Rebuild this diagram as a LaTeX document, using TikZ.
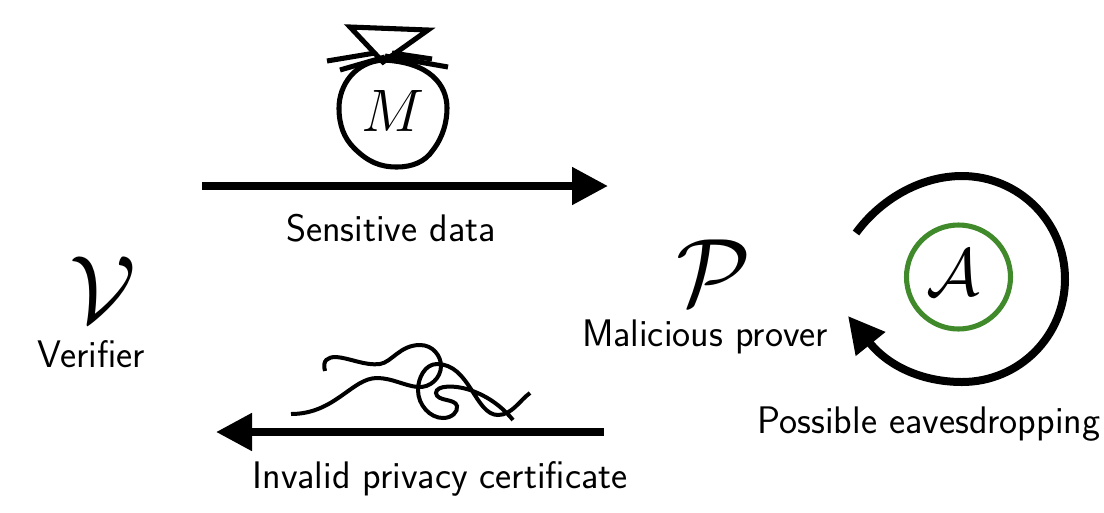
\RequirePackage{fix-cm}
\documentclass[tikz,border=0pt]{standalone}
\usetikzlibrary{arrows.meta}
\tikzset{
  caption/.style={font=\fontsize{28.8}{32}\selectfont\sffamily, inner sep=0pt},
  party/.style={font=\fontsize{72}{80}\selectfont, inner sep=0pt},
  letter/.style={font=\fontsize{45}{50}\selectfont, inner sep=0pt},
  flow/.style={line width=6pt, -{Triangle[length=27pt,width=27pt]}},
  sketch/.style={line width=3.8pt, line cap=butt, line join=miter},
  thread/.style={line width=3pt, line cap=butt},
}
\begin{document}
\begin{tikzpicture}[x=0.75pt,y=0.75pt,yscale=-1,xscale=1]
\useasboundingbox (0,0) rectangle (1104,512);

\node [party] (verifier) at (103,290) {$\mathcal{V}$};
\node [caption] (verifierlabel) at (91,354) {Verifier};
\node [party] (prover) at (714,273) {$\mathcal{P}$};
\node [caption] (proverlabel) at (705,337) {Malicious prover};

% money bag
\draw [sketch] (383,60) .. controls (355,62) and (339,85) .. (339,108) .. controls (339,125) and (344,138) .. (354,148) .. controls (368,162) and (380,167) .. (397,167) .. controls (412,167) and (425,162) .. (433,150) .. controls (443,137) and (447,122) .. (447,108) .. controls (447,85) and (430,62) .. (383,60);
\draw [sketch] (383,62) -- (350,27) -- (428,30) -- cycle;
\draw [sketch] (327,61) -- (375,53);
\draw [sketch] (340,70) -- (385,57);
\draw [sketch] (392,53) -- (432,59);
\draw [sketch] (385,56) -- (448,67);
\node [letter] (secret) at (393,111) {$M$};

\coordinate (sendstart) at (202,186);
\coordinate (sendend) at (608,186);
\draw [flow] (sendstart) -- (sendend);
\node [caption] (sendlabel) at (391,228) {Sensitive data};

% crumpled certificate
\draw [thread] (325,371) .. controls (322,360) and (328,357) .. (336,357) .. controls (350,358) and (365,366) .. (380,364) .. controls (392,362) and (400,345) .. (420,345) .. controls (433,345) and (441,356) .. (441,366) .. controls (441,378) and (430,388) .. (418,387) .. controls (405,386) and (392,378) .. (377,378) .. controls (352,378) and (335,414) .. (291,414);
\draw [thread] (530,393) .. controls (520,400) and (512,415) .. (498,415) .. controls (475,415) and (470,364) .. (437,364) .. controls (425,364) and (418,378) .. (418,390) .. controls (418,405) and (430,418) .. (443,418) .. controls (452,418) and (458,412) .. (457,406) .. controls (455,398) and (437,402) .. (436,393) .. controls (436,385) and (455,385) .. (470,390) .. controls (490,397) and (503,408) .. (513,420);

\coordinate (replystart) at (604,432);
\coordinate (replyend) at (216,432);
\draw [flow] (replystart) -- (replyend);
\node [caption] (replylabel) at (440,479) {Invalid privacy certificate};

% eavesdropper
\node [circle, draw={rgb,255:red,64;green,138;blue,43}, line width=3.8pt, minimum size=78pt, inner sep=0pt] (adversary) at (958.5,277) {};
\node [letter, font=\fontsize{50}{56}\selectfont] (adversaryname) at (953,273) {$\mathcal{A}$};
\coordinate (loopstart) at (856,233);
\coordinate (loopend) at (848,316);
\draw [line width=6pt, -{Triangle[length=27pt,width=27pt]}] (loopstart) .. controls (880,200) and (920,176) .. (962,176) .. controls (1019,176) and (1065,222) .. (1065,279) .. controls (1065,336) and (1019,382) .. (962,382) .. controls (925,382) and (890,368) .. (loopend);
\node [caption] (looplabel) at (929,424) {Possible eavesdropping};

\end{tikzpicture}
\end{document}
